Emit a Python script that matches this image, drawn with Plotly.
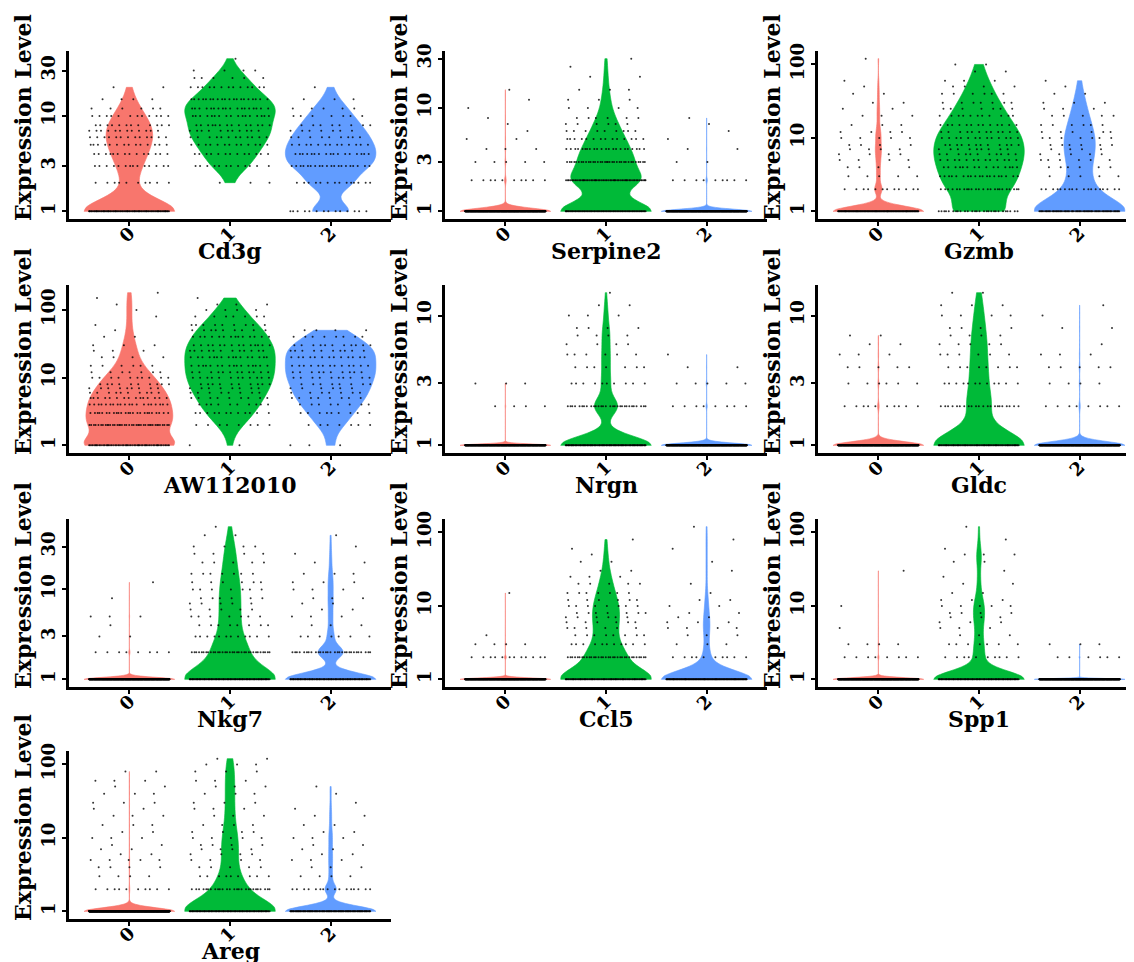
import numpy as np
import plotly.graph_objects as go

W, H = 1134, 962
FONT = "DejaVu Serif"

# Expression levels (counts) and number of cells at each level, per cluster
LEVELS = [1, 2, 3, 4, 5, 6, 7, 8, 10, 12, 15, 20, 25, 30, 40, 50, 60, 80, 100, 120, 150, 180]
CLUSTERS = ["0", "1", "2"]
COLORS = ["#F8766D", "#00BA38", "#619CFF"]
GENES = ["Cd3g", "Serpine2", "Gzmb", "AW112010", "Nrgn", "Gldc", "Nkg7", "Ccl5", "Spp1", "Areg"]

CD3G = [
    [100, 10, 14, 14, 14, 13, 12, 12, 12, 6, 4, 2, 0, 0, 0, 0, 0, 0, 0, 0, 0, 0],
    [0, 3, 12, 13, 13, 12, 11, 14, 17, 18, 20, 13, 6, 4, 1, 0, 0, 0, 0, 0, 0, 0],
    [14, 14, 20, 17, 13, 9, 7, 8, 7, 5, 3, 1, 0, 0, 0, 0, 0, 0, 0, 0, 0, 0],
]
SERPINE2 = [
    [600, 10, 5, 3, 2, 1, 1, 1, 1, 1, 1, 0, 0, 0, 0, 0, 0, 0, 0, 0, 0, 0],
    [90, 60, 35, 22, 14, 9, 6, 6, 4, 3, 3, 2, 1, 1, 0, 0, 0, 0, 0, 0, 0, 0],
    [600, 9, 2, 2, 1, 1, 1, 1, 0, 0, 0, 0, 0, 0, 0, 0, 0, 0, 0, 0, 0, 0],
]
GZMB = [
    [150, 12, 5, 4, 4, 4, 4, 4, 5, 4, 3, 3, 2, 2, 2, 1, 1, 0, 0, 1, 0, 0],
    [28, 24, 19, 15, 13, 11, 9, 12, 13, 12, 13, 11, 7, 7, 6, 4, 3, 2, 2, 0, 0, 0],
    [80, 18, 5, 6, 6, 5, 4, 6, 7, 6, 6, 5, 3, 3, 2, 1, 1, 0, 0, 0, 0, 0],
]
AW112010 = [
    [62, 40, 25, 20, 15, 10, 9, 10, 10, 7, 6, 4, 3, 3, 2, 1, 1, 1, 1, 1, 1, 1],
    [2, 8, 12, 10, 9, 8, 8, 10, 12, 12, 16, 16, 12, 14, 14, 9, 9, 7, 4, 3, 1, 0],
    [3, 7, 9, 8, 8, 7, 6, 8, 10, 10, 13, 13, 10, 11, 8, 4, 0, 0, 0, 0, 0, 0],
]
NRGN = [
    [600, 4, 3, 0, 0, 0, 0, 0, 0, 0, 0, 0, 0, 0, 0, 0, 0, 0, 0, 0, 0, 0],
    [120, 30, 10, 7, 6, 4, 4, 4, 3, 2, 1, 0, 0, 0, 0, 0, 0, 0, 0, 0, 0, 0],
    [600, 8, 5, 2, 1, 0, 0, 0, 0, 0, 0, 0, 0, 0, 0, 0, 0, 0, 0, 0, 0, 0],
]
GLDC = [
    [600, 10, 6, 5, 3, 2, 2, 0, 0, 0, 0, 0, 0, 0, 0, 0, 0, 0, 0, 0, 0, 0],
    [100, 22, 12, 8, 6, 5, 4, 4, 4, 3, 2, 0, 0, 0, 0, 0, 0, 0, 0, 0, 0, 0],
    [600, 8, 4, 5, 3, 1, 0, 2, 1, 1, 0, 0, 0, 0, 0, 0, 0, 0, 0, 0, 0, 0],
]
NKG7 = [
    [600, 8, 2, 1, 3, 0, 0, 1, 0, 1, 0, 0, 0, 0, 0, 0, 0, 0, 0, 0, 0, 0],
    [110, 34, 12, 8, 7, 5, 5, 6, 7, 6, 7, 5, 4, 4, 2, 1, 0, 0, 0, 0, 0, 0],
    [110, 30, 7, 3, 3, 2, 2, 3, 3, 3, 3, 2, 1, 1, 1, 0, 0, 0, 0, 0, 0, 0],
]
CCL5 = [
    [600, 12, 4, 1, 0, 0, 0, 0, 0, 0, 1, 0, 0, 0, 0, 0, 0, 0, 0, 0, 0, 0],
    [100, 34, 11, 8, 6, 6, 6, 7, 8, 6, 7, 5, 3, 2, 2, 1, 1, 1, 0, 0, 0, 0],
    [150, 10, 3, 3, 4, 3, 2, 2, 2, 2, 1, 1, 0, 1, 1, 0, 1, 1, 0, 1, 0, 0],
]
SPP1 = [
    [600, 8, 4, 0, 1, 0, 0, 0, 1, 0, 0, 0, 0, 1, 0, 0, 0, 0, 0, 0, 0, 0],
    [110, 10, 7, 3, 3, 3, 3, 4, 5, 3, 2, 2, 1, 1, 2, 3, 1, 1, 0, 1, 0, 0],
    [600, 6, 3, 0, 0, 0, 0, 0, 0, 0, 0, 0, 0, 0, 0, 0, 0, 0, 0, 0, 0, 0],
]
AREG = [
    [1200, 10, 4, 4, 5, 2, 2, 2, 3, 2, 3, 3, 2, 3, 3, 2, 3, 2, 0, 0, 0, 0],
    [110, 27, 9, 5, 4, 4, 4, 4, 5, 4, 4, 3, 3, 3, 3, 3, 3, 3, 3, 2, 0, 0],
    [130, 16, 4, 3, 3, 2, 2, 2, 3, 2, 2, 2, 1, 1, 1, 1, 0, 0, 0, 0, 0, 0],
]
COUNTS = [CD3G, SERPINE2, GZMB, AW112010, NRGN, GLDC, NKG7, CCL5, SPP1, AREG]

Y_TICKS = [
    [1, 3, 10, 30], [1, 3, 10, 30], [1, 10, 100],
    [1, 10, 100], [1, 3, 10], [1, 3, 10],
    [1, 3, 10, 30], [1, 10, 100], [1, 10, 100],
    [1, 10, 100],
]

# ---- layout geometry (pixels) ----
COL_LEFT = [61, 437, 810]
PANEL_W = 322
ROW_TOP = [43, 277, 511, 743]
PANEL_H = 168
JITTER = 0.4            # half-width of horizontal point jitter (category units)
GOLDEN = 0.6180339887   # low-discrepancy steps used to spread jittered points
PLASTIC = 0.7548776662


def nrd0(y):
    """ggplot2 / R default bandwidth (Silverman's rule of thumb)."""
    y = np.asarray(y, dtype=float)
    n = len(y)
    sd = np.std(y, ddof=1)
    q75, q25 = np.percentile(y, [75, 25])
    lo = min(sd, (q75 - q25) / 1.34)
    if lo <= 0:
        lo = sd if sd > 0 else (abs(y[0]) if y[0] != 0 else 1.0)
    return 0.9 * lo * n ** (-0.2)


def spread(counts):
    """Horizontal jitter fractions in [0, 1): evenly spread within each level."""
    out = []
    for li, c in enumerate(counts):
        out.extend(((li * PLASTIC + m * GOLDEN) % 1.0) for m in range(c))
    return np.array(out)


fig = go.Figure()
xtick_font = dict(family=FONT, size=18, color="black", weight="bold")
ytick_font = dict(family=FONT, size=18, color="black", weight="bold")
annotations = []

for i, gene in enumerate(GENES):
    row, col = divmod(i, 3)
    xa = "x" if i == 0 else f"x{i+1}"
    ya = "y" if i == 0 else f"y{i+1}"
    all_logs = []
    point_traces = []
    for k, cl in enumerate(CLUSTERS):
        vals = np.repeat(LEVELS, COUNTS[i][k])
        y = np.log10(vals)
        all_logs.append(y)
        fig.add_trace(go.Violin(
            x=np.full(len(y), k), y=y, xaxis=xa, yaxis=ya,
            width=0.9, bandwidth=nrd0(y), spanmode="hard", scalemode="width",
            fillcolor=COLORS[k], line=dict(color=COLORS[k], width=0.6),
            points=False, showlegend=False, hoverinfo="skip",
        ))
        frac = spread(COUNTS[i][k])
        point_traces.append(go.Scatter(
            x=k + (frac - 0.5) * 2 * JITTER, y=y, xaxis=xa, yaxis=ya,
            mode="markers", marker=dict(color="rgba(0,0,0,0.8)", size=2),
            showlegend=False, hoverinfo="skip",
        ))
    for tr in point_traces:
        fig.add_trace(tr)

    ally = np.concatenate(all_logs)
    lo, hi = ally.min(), ally.max()
    pad = 0.05 * (hi - lo)
    x0 = COL_LEFT[col]
    top = ROW_TOP[row]
    bottom = top + PANEL_H
    xkey = "xaxis" if i == 0 else f"xaxis{i+1}"
    ykey = "yaxis" if i == 0 else f"yaxis{i+1}"
    fig.layout[xkey] = dict(
        domain=[x0 / W, (x0 + PANEL_W) / W], anchor=ya,
        range=[-0.6, 2.6], tickvals=[0, 1, 2], ticktext=CLUSTERS,
        showline=True, linecolor="black", linewidth=2.5,
        ticks="outside", ticklen=4, tickwidth=2, tickcolor="black",
        tickangle=-45, tickfont=xtick_font, ticklabelstandoff=-10,
        showgrid=False, zeroline=False,
    )
    fig.layout[ykey] = dict(
        domain=[1 - bottom / H, 1 - top / H], anchor=xa,
        range=[lo - pad, hi + pad], showline=True, linecolor="black", linewidth=2.5,
        ticks="outside", ticklen=4, tickwidth=2, tickcolor="black",
        tickvals=np.log10(Y_TICKS[i]).tolist(), ticktext=[str(t) for t in Y_TICKS[i]],
        tickangle=-90, tickfont=ytick_font, showgrid=False, zeroline=False,
    )
    # gene name (x-axis title) and y-axis title
    annotations.append(dict(
        text=gene, xref="paper", yref="paper",
        x=(x0 + PANEL_W / 2) / W, y=1 - (bottom + 32) / H,
        xanchor="center", yanchor="middle", showarrow=False,
        font=dict(family=FONT, size=22, color="black", weight="bold"),
    ))
    annotations.append(dict(
        text="Expression Level", xref="paper", yref="paper",
        x=(x0 - 46) / W, y=1 - (bottom - 101) / H, textangle=-90,
        xanchor="center", yanchor="middle", showarrow=False,
        font=dict(family=FONT, size=22, color="black", weight="bold"),
    ))

fig.update_layout(
    width=W, height=H, margin=dict(l=0, r=0, t=0, b=0),
    paper_bgcolor="white", plot_bgcolor="white",
    violinmode="overlay", template="none", annotations=annotations,
)
fig.write_html("out.html")
